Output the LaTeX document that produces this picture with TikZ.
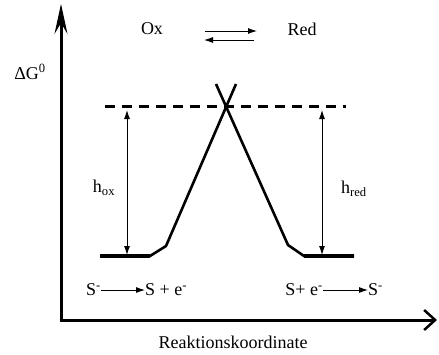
\documentclass[tikz,border=0pt]{standalone}
\usepackage{fontspec}
\setmainfont{Liberation Serif}
\usetikzlibrary{arrows.meta}
\begin{document}
\begin{tikzpicture}[x=1pt,y=-1pt,
  lbl/.style={inner sep=0pt,font=\fontsize{18}{20}\selectfont},
  yaxis/.style={line width=3pt,-{Stealth[length=30pt,width=13pt,inset=11pt,line width=1pt]}},
  xaxis/.style={line width=3pt,-{Straight Barb[length=11pt,width=20pt,line width=2.5pt]}},
  curve/.style={line width=2.6pt,line join=round},
  level/.style={line width=3.2pt},
  thinarrow/.style={line width=0.9pt,-{Latex[length=9pt,width=6pt]}},
  harrow/.style={line width=0.9pt,{Latex[length=9pt,width=6pt]}-{Latex[length=9pt,width=6pt]}},
  rxarrow/.style={line width=0.9pt,-{Latex[length=9pt,width=6pt]}}]
\useasboundingbox (0,0) rectangle (439,354);
% axes
\coordinate (O) at (61,320);
\coordinate (ytop) at (61,4);
\coordinate (xend) at (437,320);
\draw[yaxis] (O) -- (ytop);
\draw[xaxis] ([xshift=-1.5pt]O) -- (xend);
% labels
\node[lbl] (dg) at (30,72) {ΔG\textsuperscript{0}};
\node[lbl] (ox) at (152,29) {Ox};
\node[lbl] (red) at (302,29) {Red};
\coordinate (eqa) at (205,31);
\coordinate (eqb) at (257,31);
\coordinate (eqc) at (254,40);
\coordinate (eqd) at (204,40);
\draw[thinarrow] (eqa) -- (eqb);
\draw[thinarrow] (eqc) -- (eqd);
% dashed transition level
\coordinate (dl) at (105,106);
\coordinate (dr) at (346,106);
\draw[line width=3pt,dash pattern=on 10pt off 7pt] (dl) -- (dr);
% energy curves
\draw[curve] (100,256) -- (150,256) -- (166,246) -- (236,84);
\draw[curve] (216,84) -- (288,245) -- (304,256) -- (354,256);
\draw[level] (100,256) -- (150,256);
\draw[level] (304,256) -- (354,256);
% h arrows
\coordinate (hoxt) at (127,110);
\coordinate (hoxb) at (127,255);
\coordinate (hredt) at (322,110);
\coordinate (hredb) at (322,255);
\draw[harrow] (hoxb) -- (hoxt);
\draw[harrow] (hredb) -- (hredt);
\node[lbl] (hox) at (104,188) {h\textsubscript{ox}};
\node[lbl] (hred) at (354,189) {h\textsubscript{red}};
% reactions
\node[lbl,anchor=east] (s1) at (101,290) {S\textsuperscript{-}};
\node[lbl,anchor=west] (p1) at (145,290) {S + e\textsuperscript{-}};
\draw[rxarrow] (s1.east) -- (p1.west);
\node[lbl,anchor=east] (p2) at (323,290) {S+ e\textsuperscript{-}};
\node[lbl,anchor=west] (s2) at (368,290) {S\textsuperscript{-}};
\draw[rxarrow] (p2.east) -- (s2.west);
\node[lbl] (rk) at (233,342) {Reaktionskoordinate};
\end{tikzpicture}
\end{document}
